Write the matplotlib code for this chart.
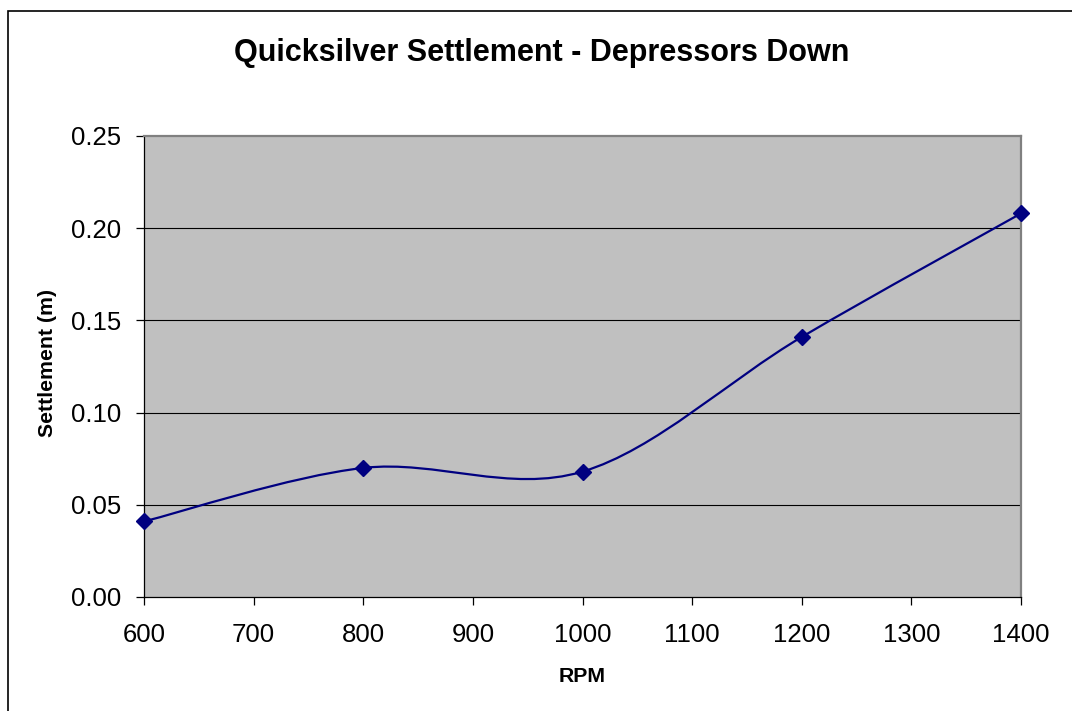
import matplotlib
matplotlib.use("Agg")
import matplotlib.pyplot as plt
from matplotlib.path import Path
from matplotlib.patches import PathPatch, Rectangle
from matplotlib.ticker import FormatStrFormatter, MultipleLocator

plt.rcParams['font.family'] = ['Liberation Sans', 'DejaVu Sans']

rpm = [600, 800, 1000, 1200, 1400]
settlement = [0.041, 0.070, 0.068, 0.141, 0.208]

title = "Quicksilver Settlement - Depressors Down"
xlabel = "RPM"
ylabel = "Settlement (m)"

W, H = 1072, 711
fig = plt.figure(figsize=(W / 100, H / 100), dpi=100)
fig.patch.set_facecolor("white")

# chart-area frame
fig.patches.append(Rectangle((8 / W, -0.05), 1.2, 1 - 11.5 / H + 0.05,
                             transform=fig.transFigure, fill=False,
                             edgecolor="black", linewidth=1.2, zorder=0))

ax = fig.add_axes([144 / W, 1 - 597 / H, (1021 - 144) / W, (597 - 136) / H])
ax.set_facecolor("#C0C0C0")
ax.set_xlim(600, 1400)
ax.set_ylim(0, 0.25)
ax.xaxis.set_major_locator(MultipleLocator(100))
ax.yaxis.set_major_locator(MultipleLocator(0.05))
ax.yaxis.set_major_formatter(FormatStrFormatter("%.2f"))

for y in [0.05, 0.10, 0.15, 0.20]:
    ax.axhline(y, color="black", linewidth=0.8, zorder=1)

for side in ("top", "right"):
    ax.spines[side].set_color("#808080")
    ax.spines[side].set_linewidth(1.6)
for side in ("left", "bottom"):
    ax.spines[side].set_color("black")
    ax.spines[side].set_linewidth(0.9)

ax.tick_params(direction="out", length=5.8, width=0.9, labelsize=18.5, colors="black")
ax.tick_params(axis="y", pad=10.5)
ax.tick_params(axis="x", pad=13)

# smoothed series: cubic Bezier segments through the data points
pts = list(zip(rpm, settlement))
n = len(pts)
verts = [pts[0]]
codes = [Path.MOVETO]
for i in range(n - 1):
    p0 = pts[i - 1] if i > 0 else pts[i]
    p1 = pts[i]
    p2 = pts[i + 1]
    p3 = pts[i + 2] if i + 2 < n else pts[i + 1]
    c1 = (p1[0] + (p2[0] - p0[0]) / 6, p1[1] + (p2[1] - p0[1]) / 6)
    c2 = (p2[0] - (p3[0] - p1[0]) / 6, p2[1] - (p3[1] - p1[1]) / 6)
    verts += [c1, c2, p2]
    codes += [Path.CURVE4] * 3
ax.add_patch(PathPatch(Path(verts, codes), facecolor="none",
                       edgecolor="#000080", linewidth=1.6, zorder=3))
ax.plot(rpm, settlement, linestyle="none", marker="D", markersize=8,
        color="#000080", zorder=4, clip_on=False)

fig.text(542 / W, 1 - 53 / H, title, ha="center", va="center",
         fontsize=22, fontweight="bold")
fig.text(582 / W, 1 - 676 / H, xlabel, ha="center", va="center",
         fontsize=15.3, fontweight="bold")
fig.text(48 / W, 1 - 363 / H, ylabel, ha="center", va="center",
         fontsize=15.3, fontweight="bold", rotation=90)

fig.savefig("out.png", dpi=100)
